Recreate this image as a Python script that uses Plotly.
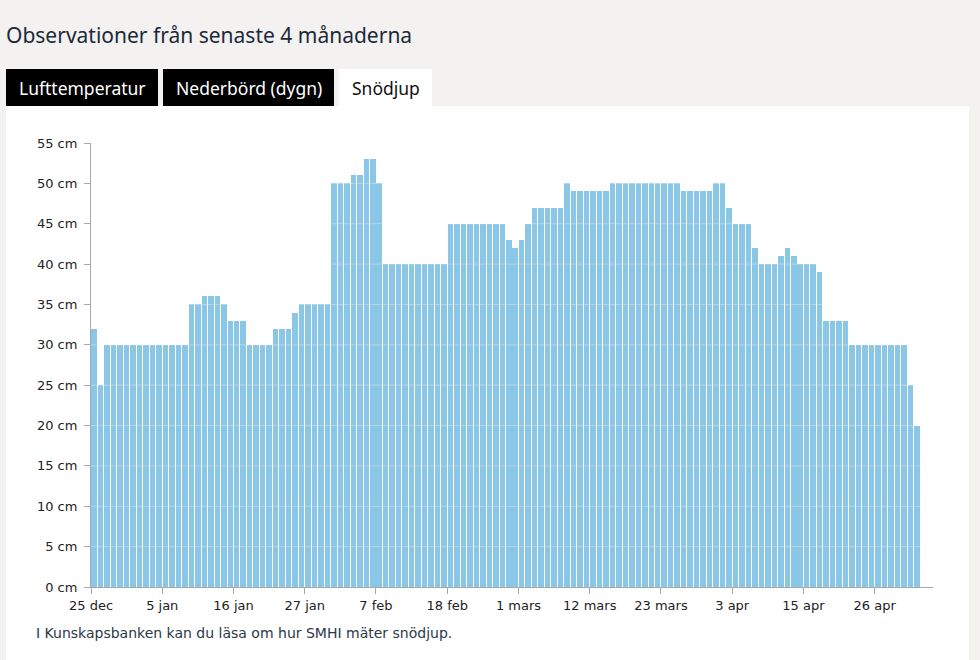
import plotly.graph_objects as go
import pandas as pd

# ---- data ----
snow_depth = [
    32, 25, 30, 30, 30, 30, 30, 30, 30, 30, 30, 30, 30, 30, 30,
    35, 35, 36, 36, 36, 35, 33, 33, 33, 30, 30, 30, 30, 32, 32, 32, 34,
    35, 35, 35, 35, 35, 50, 50, 50, 51, 51, 53, 53, 50,
    40, 40, 40, 40, 40, 40, 40, 40, 40, 40,
    45, 45, 45, 45, 45, 45, 45, 45, 45,
    43, 42, 43, 45, 47, 47, 47, 47, 47, 50,
    49, 49, 49, 49, 49, 49,
    50, 50, 50, 50, 50, 50, 50, 50, 50, 50, 50,
    49, 49, 49, 49, 49, 50, 50, 47, 45, 45, 45, 42,
    40, 40, 40, 41, 42, 41, 40, 40, 40, 39,
    33, 33, 33, 33, 30, 30, 30, 30, 30, 30, 30, 30, 30, 25, 20,
]
start_date = "2022-12-25"
tick_labels = ["25 dec", "5 jan", "16 jan", "27 jan", "7 feb", "18 feb",
               "1 mars", "12 mars", "23 mars", "3 apr", "15 apr", "26 apr"]
y_ticks = [0, 5, 10, 15, 20, 25, 30, 35, 40, 45, 50, 55]
y_labels = [f"{v} cm" for v in y_ticks]

dates = pd.date_range(pd.Timestamp(start_date) + pd.Timedelta(hours=12),
                      periods=len(snow_depth), freq="D")
tick_dates = pd.date_range(start_date, periods=len(tick_labels), freq="11D")

W, H = 980, 660
ML, MR, MT, MB = 91, 47, 143, 73
PW, PH = W - ML - MR, H - MT - MB
BG = "#f3f2f0"


def px(x):
    return (x - ML) / PW


def py(y):
    return (H - MB - y) / PH


fig = go.Figure()
fig.add_trace(go.Bar(
    x=dates, y=snow_depth,
    width=0.85 * 86400000,
    marker=dict(color="rgb(138,198,229)", line=dict(width=0)),
    hoverinfo="x+y",
))

shapes = []
# white panel
shapes.append(dict(type="rect", xref="paper", yref="paper", layer="below",
                   x0=px(6), x1=px(969), y0=py(662), y1=py(106),
                   fillcolor="white", line=dict(width=0)))
# tabs
for x0, x1, col in [(6, 158, "black"), (163, 334, "black"), (339, 432, "white")]:
    shapes.append(dict(type="rect", xref="paper", yref="paper", layer="below",
                       x0=px(x0), x1=px(x1), y0=py(106), y1=py(69),
                       fillcolor=col, line=dict(width=0)))
# light gridlines drawn over the bars
for v in y_ticks[1:]:
    shapes.append(dict(type="line", xref="paper", yref="y", layer="above",
                       x0=0, x1=1, y0=v, y1=v,
                       line=dict(color="rgba(255,255,255,0.35)", width=1)))

annotations = [
    dict(text="Observationer från senaste 4 månaderna", xref="paper", yref="paper",
         x=px(4), y=py(35), xanchor="left", yanchor="middle", showarrow=False,
         font=dict(family="Noto Sans", size=21, color="#1c2a3a")),
    dict(text="Lufttemperatur", xref="paper", yref="paper",
         x=px(82), y=py(88), xanchor="center", yanchor="middle", showarrow=False,
         font=dict(family="Noto Sans", size=17.5, color="white")),
    dict(text="Nederbörd (dygn)", xref="paper", yref="paper",
         x=px(248.5), y=py(88), xanchor="center", yanchor="middle", showarrow=False,
         font=dict(family="Noto Sans", size=17.5, color="white")),
    dict(text="Snödjup", xref="paper", yref="paper",
         x=px(385.5), y=py(88), xanchor="center", yanchor="middle", showarrow=False,
         font=dict(family="Noto Sans", size=17.5, color="#111111")),
    dict(text="I Kunskapsbanken kan du läsa om hur SMHI mäter snödjup.",
         xref="paper", yref="paper",
         x=px(34), y=py(633), xanchor="left", yanchor="middle", showarrow=False,
         font=dict(family="DejaVu Sans", size=14, color="#2b3847")),
]

fig.update_layout(
    width=W, height=H,
    margin=dict(l=ML, r=MR, t=MT, b=MB, pad=0),
    paper_bgcolor=BG,
    plot_bgcolor="white",
    showlegend=False,
    bargap=0,
    shapes=shapes,
    annotations=annotations,
    font=dict(family="DejaVu Sans", size=13, color="#222222"),
)
fig.update_xaxes(
    type="date",
    range=[pd.Timestamp(start_date), pd.Timestamp(start_date) + pd.Timedelta(days=130)],
    tickvals=tick_dates, ticktext=tick_labels,
    showgrid=False, zeroline=False,
    showline=True, linecolor="#a8a8a8", linewidth=1,
    ticks="outside", ticklen=6, tickcolor="#a8a8a8",
    tickfont=dict(family="DejaVu Sans", size=13, color="#222222"),
)
fig.update_yaxes(
    range=[0, 55],
    tickvals=y_ticks, ticktext=y_labels,
    showgrid=False, zeroline=False,
    showline=True, linecolor="#a8a8a8", linewidth=1,
    ticks="outside", ticklen=6, tickcolor="#a8a8a8",
    ticklabelstandoff=4,
    tickfont=dict(family="DejaVu Sans", size=13, color="#222222"),
)

fig.write_html(
    "out.html",
    config={"displayModeBar": False},
    post_script=("document.body.style.margin='0';"
                 "document.body.style.overflow='hidden';"
                 f"document.body.style.background='{BG}';"),
)
